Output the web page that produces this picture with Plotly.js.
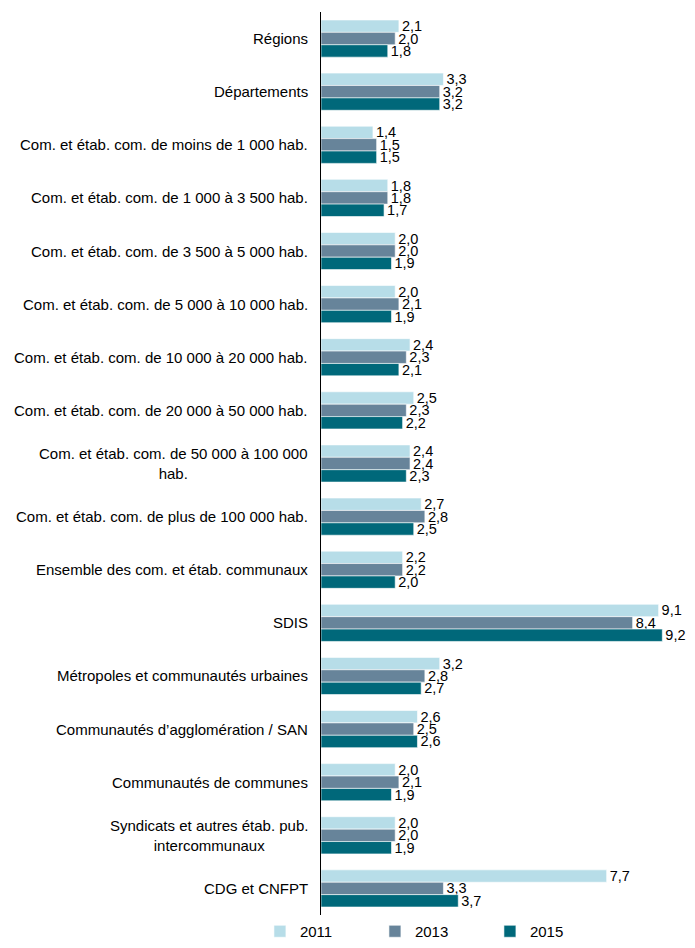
<!DOCTYPE html>
<html><head><meta charset="utf-8">
<script src="https://cdn.plot.ly/plotly-3.0.1.min.js"></script>
<style>body{margin:0;background:#fff}#c{width:695px;height:948px}</style>
</head><body><div id="c"></div>
<script>
const categories = [
 "Régions","Départements",
 "Com. et étab. com. de moins de 1 000 hab.",
 "Com. et étab. com. de 1 000 à 3 500 hab.",
 "Com. et étab. com. de 3 500 à 5 000 hab.",
 "Com. et étab. com. de 5 000 à 10 000 hab.",
 "Com. et étab. com. de 10 000 à 20 000 hab.",
 "Com. et étab. com. de 20 000 à 50 000 hab.",
 "Com. et étab. com. de 50 000 à 100 000<br>hab.",
 "Com. et étab. com. de plus de 100 000 hab.",
 "Ensemble des com. et étab. communaux",
 "SDIS",
 "Métropoles et communautés urbaines",
 "Communautés d’agglomération / SAN",
 "Communautés de communes",
 "Syndicats et autres étab. pub.<br>intercommunaux",
 "CDG et CNFPT"
];
const v2011 = [2.1,3.3,1.4,1.8,2.0,2.0,2.4,2.5,2.4,2.7,2.2,9.1,3.2,2.6,2.0,2.0,7.7];
const v2013 = [2.0,3.2,1.5,1.8,2.0,2.1,2.3,2.3,2.4,2.8,2.2,8.4,2.8,2.5,2.1,2.0,3.3];
const v2015 = [1.8,3.2,1.5,1.7,1.9,1.9,2.1,2.2,2.3,2.5,2.0,9.2,2.7,2.6,1.9,1.9,3.7];
const seriesNames = ["2011","2013","2015"];
const colors = ["#B7DDE8","#67849A","#00687A"];
const vals = [v2011,v2013,v2015];
const font = "Liberation Sans, Arial, sans-serif";
const data = vals.map((v,i)=>({
  type:'bar', orientation:'h', name:seriesNames[i], y:categories, x:v,
  marker:{color:colors[i], line:{color:'#ffffff', width:0.6}},
  texttemplate:'%{x:.1f}', textposition:'outside', cliponaxis:false, constraintext:'none',
  textfont:{family:font,size:14.5,color:'#000'}, hoverinfo:'x+y'
}));
const annotations = categories.map(c=>({
  xref:'paper', yref:'y', x:0, y:c, xanchor:'right', yanchor:'middle', xshift:-11,
  text:c, showarrow:false, align:'center', font:{family:font,size:15,color:'#000'}
}));
const layout = {
  width:695, height:948,
  margin:{l:321, r:3, t:12, b:33, autoexpand:false},
  separators:',.',
  barmode:'group', bargap:0.3, bargroupgap:0,
  showlegend:true,
  legend:{orientation:'h', xref:'container', yref:'container', x:0.374, xanchor:'left', y:0.0, yanchor:'bottom',
    font:{family:font,size:15,color:'#000'}, entrywidth:70, entrywidthmode:'pixels', itemwidth:30, traceorder:'normal'},
  xaxis:{range:[0,10], showgrid:false, zeroline:false, showticklabels:false, ticks:'', showline:false, fixedrange:true},
  yaxis:{autorange:'reversed', showticklabels:false, ticks:'', showgrid:false,
    showline:true, linecolor:'#000', linewidth:1, type:'category'},
  annotations:annotations,
  plot_bgcolor:'#fff', paper_bgcolor:'#fff'
};
Plotly.newPlot('c', data, layout, {displayModeBar:false, staticPlot:true});
</script></body></html>
